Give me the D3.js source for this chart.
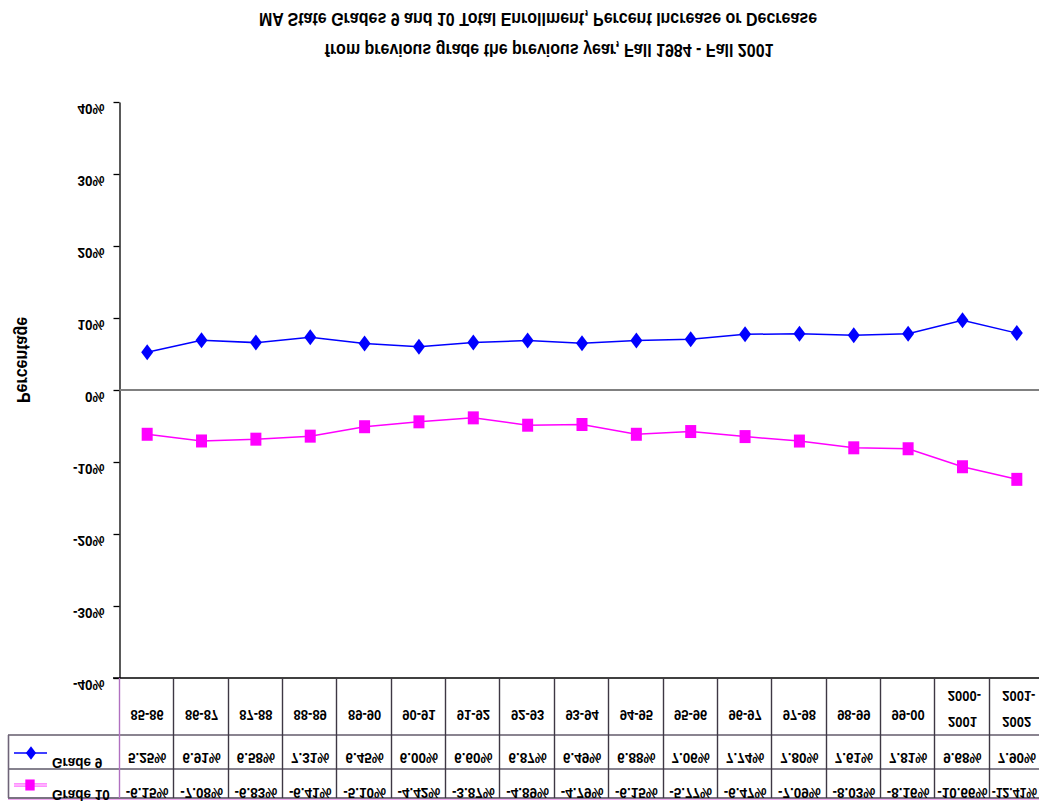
<!DOCTYPE html>
<html>
<head>
<meta charset="utf-8">
<script src="https://cdn.jsdelivr.net/npm/d3@7"></script>
<style>
  body { margin: 0; background: #fff; }
  svg { display: block; }
  text { font-family: "Liberation Sans", Arial, sans-serif; fill: #000; }
</style>
</head>
<body>
<svg id="chart" width="1039" height="803"></svg>
<script>
// ---- data ----
const titleLines = [
  "MA State Grades 9 and 10 Total Enrollment, Percent Increase or Decrease",
  "from previous grade the previous year, Fall 1984 - Fall 2001"
];
const yAxisTitle = "Percentage";
const years = ["85-86", "86-87", "87-88", "88-89", "89-90", "90-91", "91-92", "92-93",
  "93-94", "94-95", "95-96", "96-97", "97-98", "98-99", "99-00", "2000-2001", "2001-2002"];
const seriesNames = ["Grade 9", "Grade 10"];
const grade9 = [5.25, 6.91, 6.58, 7.31, 6.45, 6.00, 6.60, 6.87, 6.49, 6.88,
  7.06, 7.74, 7.80, 7.61, 7.81, 9.68, 7.90];
const grade10 = [-6.15, -7.08, -6.83, -6.41, -5.10, -4.42, -3.87, -4.89, -4.79, -6.15,
  -5.77, -6.47, -7.09, -8.03, -8.16, -10.66, -12.41];
const yTicks = [-40, -30, -20, -10, 0, 10, 20, 30, 40];

// ---- layout ----
const W = 1039;
const svg = d3.select("#chart");
const plot = { left: 120, right: 1044, top: 102, bottom: 678 };
const rows = { head: 678, r1: 735, r2: 769, end: 798 };
const blue = "#0000ff", pink = "#ff00ff";

const x = d3.scaleBand().domain(years).range([plot.left, plot.right]);
const y = d3.scaleLinear().domain([-40, 40]).range([plot.bottom, plot.top]);
const cx = d => x(d) + x.bandwidth() / 2;
const fmtPct = v => v.toFixed(2) + "%";

// text mirrored top-to-bottom around its own centre (slightly tall glyphs)
function flipped(parent, tx, ty, str, opts = {}) {
  const sy = opts.stretch || 1.15;
  const g = parent.append("g").attr("transform", `translate(${tx},${ty}) scale(1,${-sy})`);
  return g.append("text")
    .attr("text-anchor", opts.anchor || "middle")
    .attr("dominant-baseline", "central")
    .style("font-size", (opts.size || 13) + "px")
    .style("font-weight", opts.weight || "bold")
    .text(str);
}

// ---- title ----
flipped(svg, 538, 19, titleLines[0], { size: 16 });
flipped(svg, 549, 50, titleLines[1], { size: 16 });

// ---- y axis ----
const yAxis = d3.axisLeft(y).tickValues(yTicks).tickSize(6).tickSizeOuter(0)
  .tickFormat(d => d + "%");
const ax = svg.append("g").attr("transform", "translate(119.5,0)").call(yAxis);
ax.select(".domain").attr("stroke", "#000").attr("stroke-width", 1.3);
ax.selectAll(".tick line").attr("stroke", "#000").attr("stroke-width", 1.3);
ax.selectAll(".tick text")
  .attr("x", 0).attr("dy", null)
  .attr("dominant-baseline", "central")
  .attr("transform", "translate(-15,7) scale(1,-1.15)")
  .style("font-size", "13.5px").style("font-weight", "bold")
  .style("font-family", "\"Liberation Sans\", Arial, sans-serif");

// y axis title, rotated
svg.append("g").attr("transform", "translate(23,360) rotate(-90) scale(1,-1.1)")
  .append("text").attr("text-anchor", "middle").attr("dominant-baseline", "central")
  .style("font-size", "16px").style("font-weight", "bold").text(yAxisTitle);

// zero line
svg.append("line")
  .attr("x1", 119.5).attr("x2", W).attr("y1", y(0)).attr("y2", y(0))
  .attr("stroke", "#808080").attr("stroke-width", 2.2);

// ---- series ----
const diamond = "M0,-8L6,0L0,8L-6,0Z";
const square = "M-5.5,-6.5H5.5V6.5H-5.5Z";
const line = d3.line().x(d => cx(d.k)).y(d => y(d.v));
const s9 = years.map((k, i) => ({ k, v: grade9[i] }));
const s10 = years.map((k, i) => ({ k, v: grade10[i] }));

svg.append("path").datum(s9).attr("d", line)
  .attr("fill", "none").attr("stroke", blue).attr("stroke-width", 1.5);
svg.append("g").selectAll("path").data(s9).join("path")
  .attr("d", diamond).attr("fill", blue)
  .attr("transform", d => `translate(${cx(d.k)},${y(d.v)})`);

svg.append("path").datum(s10).attr("d", line)
  .attr("fill", "none").attr("stroke", pink).attr("stroke-width", 1.5);
svg.append("g").selectAll("path").data(s10).join("path")
  .attr("d", square).attr("fill", pink)
  .attr("transform", d => `translate(${cx(d.k)},${y(d.v)})`);

// ---- data table ----
const grid = svg.append("g");
// plot bottom border / table top
grid.append("line").attr("x1", 113).attr("x2", W)
  .attr("y1", rows.head).attr("y2", rows.head).attr("stroke", "#000").attr("stroke-width", 1.5);
// horizontal rules of the value rows
[[rows.r1, "#8a8490", 2.2], [rows.r2, "#5e5868", 1.6], [rows.end, "#7a7282", 2]].forEach(([yy, c, w]) => {
  grid.append("line").attr("x1", 8).attr("x2", W).attr("y1", yy).attr("y2", yy)
    .attr("stroke", c).attr("stroke-width", w);
});
grid.append("line").attr("x1", 8).attr("x2", W).attr("y1", rows.end + 1.5).attr("y2", rows.end + 1.5)
  .attr("stroke", "#f2a8f2").attr("stroke-width", 1);
// column separators
const bounds = years.map(k => x(k)).concat([plot.right]);
grid.selectAll("line.col").data(bounds).join("line").attr("class", "col")
  .attr("x1", d => Math.round(d) - 0.5).attr("x2", d => Math.round(d) - 0.5)
  .attr("y1", rows.head).attr("y2", rows.end)
  .attr("stroke", (d, i) => i === 0 ? "#b070c0" : "#3e3844").attr("stroke-width", 1.4);
// legend cell left border
grid.append("line").attr("x1", 8.5).attr("x2", 8.5).attr("y1", rows.r1).attr("y2", rows.end)
  .attr("stroke", "#6e6478").attr("stroke-width", 1.6);

// category labels
years.forEach(k => {
  const parts = k.length > 5 ? [k.slice(0, 5), k.slice(5)] : [k];
  if (parts.length === 1) {
    flipped(svg, cx(k), 715, parts[0], { size: 13 });
  } else {
    flipped(svg, cx(k) + 2, 696, parts[0], { size: 13 });
    flipped(svg, cx(k), 722, parts[1], { size: 13 });
  }
});

// value cells; long values are shrunk to fit the visible part of their cell
function valueRow(vals, ty) {
  vals.forEach((v, i) => {
    const k = years[i];
    const left = x(k) + 2;
    const right = Math.min(x(k) + x.bandwidth(), W) - 2;
    const avail = right - left;
    const size = 13.5;
    const t = flipped(svg, cx(k), ty, fmtPct(v), { size });
    const w = t.node().getComputedTextLength();
    if (w > avail || cx(k) + w / 2 > right) {
      const fit = Math.min(size, size * avail / w);
      t.style("font-size", fit + "px").attr("text-anchor", "middle");
      t.node().parentNode.setAttribute("transform",
        `translate(${(left + right) / 2},${ty}) scale(1,-1.15)`);
    }
  });
}
valueRow(grade9, 758);
valueRow(grade10, 793);

// legend keys in the table
const key = svg.append("g");
key.append("line").attr("x1", 14).attr("x2", 47).attr("y1", 753).attr("y2", 753)
  .attr("stroke", blue).attr("stroke-width", 1.5);
key.append("path").attr("d", diamond).attr("fill", blue).attr("transform", "translate(31,753) scale(0.85)");
key.append("line").attr("x1", 14).attr("x2", 47).attr("y1", 785).attr("y2", 785)
  .attr("stroke", "#ff90ff").attr("stroke-width", 4);
key.append("line").attr("x1", 14).attr("x2", 47).attr("y1", 785).attr("y2", 785)
  .attr("stroke", "#ffd0ff").attr("stroke-width", 1.2);
key.append("path").attr("d", square).attr("fill", pink).attr("transform", "translate(30,785) scale(0.85)");
flipped(svg, 52, 763, seriesNames[0], { size: 13.5, anchor: "start" });
flipped(svg, 52, 795, seriesNames[1], { size: 13.5, anchor: "start" });
</script>
</body>
</html>
